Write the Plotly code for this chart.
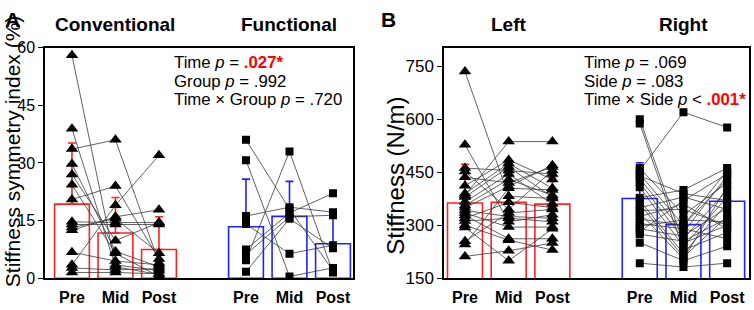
import plotly.graph_objects as go

# ---------------- data ----------------
time_labels = ["Pre", "Mid", "Post"]

# Panel A: stiffness symmetry index (%)
conv_pre  = [58.0, 38.9, 33.6, 29.7, 27.0, 24.3, 20.5, 14.7, 14.0, 13.2, 12.5, 6.8, 3.5, 2.7, 1.5]
conv_mid  = [3.5, 3.0, 36.0, 7.0, 9.8, 6.5, 24.0, 14.5, 14.0, 15.5, 16.0, 4.5, 19.0, 2.2, 1.5]
conv_post = [2.0, 1.0, 4.0, 3.0, 14.5, 0.5, 5.0, 14.5, 14.0, 6.5, 17.8, 3.5, 32.0, 2.5, 1.2]
conv_mean = [19.3, 11.8, 7.5]
conv_sd   = [15.9, 9.2, 8.5]

func_pre  = [36.0, 30.7, 16.2, 14.1, 7.5, 6.2, 4.7, 1.7]
func_mid  = [18.0, 0.5, 18.5, 6.4, 17.0, 16.0, 33.0, 15.5]
func_post = [2.0, 2.7, 17.2, 8.6, 22.1, 16.4, 1.5, 7.8]
func_mean = [13.4, 16.1, 9.0]
func_sd   = [12.4, 9.1, 8.0]

# Panel B: stiffness (N/m)
left_pre  = [735, 528, 462, 452, 436, 412, 385, 390, 380, 366, 356, 350, 342, 335, 328, 320, 312, 300, 294, 255, 246, 212]
left_mid  = [382, 310, 455, 345, 420, 485, 537, 475, 465, 445, 430, 410, 325, 295, 262, 365, 320, 258, 200, 335, 405, 228]
left_post = [376, 330, 445, 455, 465, 430, 537, 405, 380, 360, 385, 470, 320, 295, 262, 350, 310, 230, 290, 345, 400, 250]
left_mean = [363, 365, 360]
left_sd   = [110, 85, 76]

right_pre  = [600, 588, 462, 455, 445, 432, 420, 408, 378, 370, 360, 350, 342, 335, 325, 318, 305, 298, 290, 282, 275, 251, 193, 440]
right_mid  = [250, 230, 330, 620, 300, 280, 262, 240, 400, 220, 210, 380, 345, 205, 360, 300, 290, 315, 270, 370, 255, 200, 182, 390]
right_post = [300, 280, 420, 577, 455, 440, 400, 380, 462, 362, 325, 345, 300, 410, 290, 430, 262, 310, 350, 445, 320, 241, 193, 370]
right_mean = [376, 302, 368]
right_sd   = [101, 93, 75]

group_titles = ["Conventional", "Functional", "Left", "Right"]
stats_A = ["Time <i>p</i> = <span style='color:#ff0000'><b>.027*</b></span>",
           "Group <i>p</i> = .992",
           "Time × Group <i>p</i> = .720"]
stats_B = ["Time <i>p</i> = .069",
           "Side <i>p</i> = .083",
           "Time × Side <i>p</i> < <span style='color:#ff0000'><b>.001*</b></span>"]

# ---------------- figure ----------------
W, H = 754, 310
FONT = "Liberation Sans, Arial, sans-serif"
RED = "#ff2020"
BLUE = "#2020ff"
fig = go.Figure()

pos_g1 = [0, 1, 2]
pos_g2 = [4, 5, 6]


def add_group(pre, mid, post, mean, sd, xs, color, symbol, msize, xa, ya):
    fig.add_trace(go.Bar(
        x=xs, y=mean, width=0.8, xaxis=xa, yaxis=ya,
        marker=dict(color="rgba(0,0,0,0)", line=dict(color=color, width=1.6)),
        error_y=dict(type="data", symmetric=False, array=sd, arrayminus=[0] * len(sd),
                     color=color, thickness=1.6, width=4),
        showlegend=False, hoverinfo="skip"))
    lx, ly = [], []
    for a, b, c in zip(pre, mid, post):
        lx += [xs[0], xs[1], xs[2], None]
        ly += [a, b, c, None]
    fig.add_trace(go.Scatter(x=lx, y=ly, mode="lines", xaxis=xa, yaxis=ya,
                             line=dict(color="#3a3a3a", width=0.8),
                             showlegend=False, hoverinfo="skip"))
    mx, my = [], []
    for i, arr in enumerate([pre, mid, post]):
        mx += [xs[i]] * len(arr)
        my += list(arr)
    fig.add_trace(go.Scatter(x=mx, y=my, mode="markers", xaxis=xa, yaxis=ya,
                             marker=dict(symbol=symbol, size=msize, color="black",
                                         line=dict(width=0)),
                             showlegend=False, hoverinfo="skip"))


add_group(conv_pre, conv_mid, conv_post, conv_mean, conv_sd, pos_g1, RED, "triangle-up", 11, "x", "y")
add_group(func_pre, func_mid, func_post, func_mean, func_sd, pos_g2, BLUE, "square", 8, "x", "y")
add_group(left_pre, left_mid, left_post, left_mean, left_sd, pos_g1, RED, "triangle-up", 11, "x2", "y2")
add_group(right_pre, right_mid, right_post, right_mean, right_sd, pos_g2, BLUE, "square", 8, "x2", "y2")

ydom = [1 - 287 / H, 1 - 42 / H]
xcommon = dict(showline=True, linecolor="black", linewidth=1.5, mirror=True,
               ticks="", showgrid=False, zeroline=False, ticklabelstandoff=4,
               tickvals=pos_g1 + pos_g2, ticktext=time_labels * 2,
               tickfont=dict(family=FONT, size=16, color="black", weight="bold"))
ycommon = dict(showline=True, linecolor="black", linewidth=1.5, mirror=True,
               ticks="outside", ticklen=5, tickwidth=1.2, tickcolor="black",
               showgrid=False, zeroline=False,
               tickfont=dict(family=FONT, size=16, color="black"))

fig.update_layout(
    width=W, height=H, margin=dict(l=0, r=0, t=0, b=0),
    paper_bgcolor="white", plot_bgcolor="white", barmode="overlay",
    xaxis=dict(domain=[45 / W, 353 / W], range=[-0.62, 6.46], anchor="y", **xcommon),
    yaxis=dict(domain=ydom, range=[0, 60], tickvals=[0, 15, 30, 45, 60], anchor="x",
               **ycommon),
    xaxis2=dict(domain=[444 / W, 749 / W], range=[-0.48, 6.5], anchor="y2", **xcommon),
    yaxis2=dict(domain=ydom, range=[150, 803], tickvals=[150, 300, 450, 600, 750], anchor="x2",
                **{**ycommon, "tickfont": dict(family=FONT, size=17, color="black")}),
)

ann = []
# y axis titles
ann.append(dict(text="Stiffness symmetry index (%)", x=12 / W, y=1 - 152 / H, xref="paper", yref="paper",
                xanchor="center", yanchor="middle",
                textangle=-90, showarrow=False, font=dict(family=FONT, size=21, color="black")))
ann.append(dict(text="Stiffness (N/m)", x=396 / W, y=1 - 178 / H, xref="paper", yref="paper",
                xanchor="center", yanchor="middle",
                textangle=-90, showarrow=False, font=dict(family=FONT, size=24, color="black")))
# panel letters
ann.append(dict(text="<b>A</b>", x=3 / W, y=1 - 12 / H, xref="paper", yref="paper",
                xanchor="left", yanchor="middle",
                showarrow=False, font=dict(family=FONT, size=21, color="black")))
ann.append(dict(text="<b>B</b>", x=379 / W, y=1 - 12 / H, xref="paper", yref="paper",
                xanchor="left", yanchor="middle",
                showarrow=False, font=dict(family=FONT, size=21, color="black")))
# group titles
for t, (xa, xc) in zip(group_titles, [("x", 1), ("x", 5), ("x2", 1), ("x2", 5)]):
    ann.append(dict(text="<b>" + t + "</b>", x=xc, y=1 - 18 / H, xref=xa, yref="paper",
                    xanchor="center", yanchor="middle",
                    showarrow=False, font=dict(family=FONT, size=19, color="black")))
# stats text
for i, s in enumerate(stats_A):
    ann.append(dict(text=s, x=172 / W, y=1 - (58 + 19.5 * i) / H, xref="paper", yref="paper",
                    xanchor="left", yanchor="middle",
                    showarrow=False, font=dict(family=FONT, size=16.8, color="black")))
for i, s in enumerate(stats_B):
    ann.append(dict(text=s, x=582 / W, y=1 - (58 + 19.5 * i) / H, xref="paper", yref="paper",
                    xanchor="left", yanchor="middle",
                    showarrow=False, font=dict(family=FONT, size=16.8, color="black")))
fig.update_layout(annotations=ann)

fig.write_html("out.html", config={"displayModeBar": False},
               post_script="document.body.style.margin='0';document.body.style.overflow='hidden';")
